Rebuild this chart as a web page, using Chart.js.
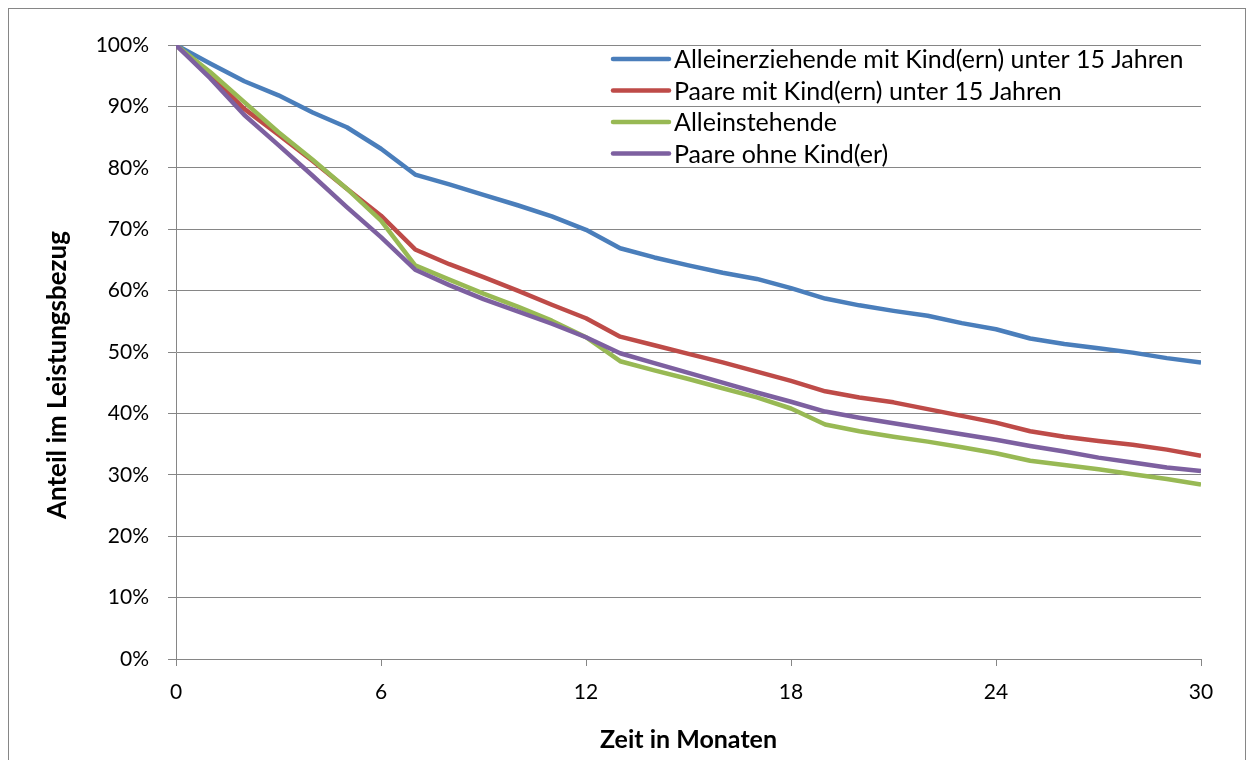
<!DOCTYPE html>
<html>
<head>
<meta charset="utf-8">
<script src="https://cdn.jsdelivr.net/npm/chart.js@4.4.0/dist/chart.umd.min.js"></script>
<style>
  body { margin: 0; background: #fff; }
  #wrap { width: 1254px; height: 760px; }
</style>
</head>
<body>
<div id="wrap"><canvas id="c" width="1254" height="760"></canvas></div>
<script>
// Zeit in Monaten 0..30
const months = [0,1,2,3,4,5,6,7,8,9,10,11,12,13,14,15,16,17,18,19,20,21,22,23,24,25,26,27,28,29,30]

const alleinerziehende = [100, 97.0, 94.1, 91.8, 89.0, 86.6, 83.1, 78.9, 77.3, 75.6, 73.9, 72.1, 69.9, 66.9, 65.4, 64.1, 62.9, 61.9, 60.4, 58.7, 57.6, 56.7, 55.9, 54.7, 53.7, 52.2, 51.3, 50.6, 49.9, 49.0, 48.3]
const paareMitKind = [100, 95.1, 89.6, 85.4, 81.1, 76.6, 72.2, 66.7, 64.3, 62.2, 60.0, 57.7, 55.5, 52.5, 51.1, 49.7, 48.3, 46.8, 45.3, 43.6, 42.6, 41.8, 40.7, 39.6, 38.5, 37.1, 36.2, 35.5, 34.9, 34.1, 33.1]
const alleinstehende = [100, 95.6, 90.7, 85.8, 81.3, 76.6, 71.4, 64.1, 61.8, 59.5, 57.4, 55.1, 52.4, 48.5, 47.0, 45.6, 44.1, 42.6, 40.8, 38.2, 37.1, 36.2, 35.4, 34.5, 33.5, 32.3, 31.6, 30.9, 30.1, 29.3, 28.4]
const paareOhneKind = [100, 94.6, 88.6, 83.7, 78.7, 73.6, 68.7, 63.4, 60.9, 58.6, 56.6, 54.6, 52.4, 49.8, 48.2, 46.6, 45.0, 43.4, 41.9, 40.3, 39.3, 38.4, 37.5, 36.6, 35.7, 34.7, 33.8, 32.8, 32.0, 31.2, 30.6]

const seriesNames = ["Alleinerziehende mit Kind(ern) unter 15 Jahren", "Paare mit Kind(ern) unter 15 Jahren", "Alleinstehende", "Paare ohne Kind(er)"]
const seriesValues = [alleinerziehende, paareMitKind, alleinstehende, paareOhneKind]
const seriesColors = ["#4a7ebb", "#be4b48", "#98b954", "#7d60a0"]

const yTitle = "Anteil im Leistungsbezug"
const xTitle = "Zeit in Monaten"

const FONT = "Lato, 'Open Sans', sans-serif"
const GRID = "#868686"

function toPoints(values) {
    return values.map((v, i) => ({ x: months[i], y: v }))
}

// Rahmen, Legende im Diagramm und Y-Achsentitel
const extras = {
    id: 'extras',
    beforeDraw(chart) {
        let ctx = chart.ctx
        ctx.save()
        ctx.fillStyle = '#fff'
        ctx.fillRect(0, 0, chart.width, chart.height)
        ctx.strokeStyle = GRID
        ctx.lineWidth = 1
        ctx.strokeRect(8.5, 8.5, 1237, 760)
        ctx.restore()
    },
    afterDraw(chart) {
        let ctx = chart.ctx
        ctx.save()
        ctx.font = "25px " + FONT
        ctx.textBaseline = 'middle'
        ctx.lineCap = 'round'
        chart.data.datasets.forEach((ds, i) => {
            let y = 59 + i * 31.5
            ctx.strokeStyle = ds.borderColor
            ctx.lineWidth = 4.5
            ctx.beginPath()
            ctx.moveTo(613, y)
            ctx.lineTo(669, y)
            ctx.stroke()
            ctx.fillStyle = '#000'
            ctx.fillText(ds.label, 674, y + 1)
        })

        ctx.translate(58, 375)
        ctx.rotate(-Math.PI / 2)
        ctx.font = "bold 26px " + FONT
        ctx.textAlign = 'center'
        ctx.fillText(yTitle, 0, 0)
        ctx.restore()
    }
}

let canv = document.getElementById("c")

let chart = new Chart(canv, {
    type: 'line',
    data: {
        datasets: seriesValues.map((vals, i) => ({
            label: seriesNames[i],
            data: toPoints(vals),
            borderColor: seriesColors[i],
            backgroundColor: seriesColors[i],
            borderWidth: 4.5,
            pointRadius: 0,
            tension: 0,
            borderJoinStyle: 'round',
            order: seriesValues.length - i
        }))
    },
    options: {
        responsive: false,
        animation: false,
        layout: { padding: { top: 45, right: 53, left: 0, bottom: 0 } },
        plugins: {
            legend: { display: false },
            tooltip: { enabled: false }
        },
        scales: {
            x: {
                type: 'linear',
                min: 0,
                max: 30,
                afterFit: s => { s.height = 101 },
                ticks: {
                    stepSize: 6,
                    color: '#000',
                    padding: 14,
                    font: { family: FONT, size: 21 },
                    maxRotation: 0
                },
                grid: { drawOnChartArea: false, drawTicks: true, tickLength: 7, color: GRID },
                border: { color: GRID, width: 1 },
                title: {
                    display: true,
                    text: xTitle,
                    color: '#000',
                    font: { family: FONT, size: 25, weight: 'bold' },
                    padding: { top: 0, bottom: 5 }
                }
            },
            y: {
                min: 0,
                max: 100,
                afterFit: s => { s.width = 176 },
                ticks: {
                    stepSize: 10,
                    color: '#000',
                    padding: 19,
                    font: { family: FONT, size: 21 },
                    callback: v => v + '%'
                },
                grid: { color: GRID, tickLength: 8 },
                border: { color: GRID, width: 1 }
            }
        }
    },
    plugins: [extras]
})
</script>
</body>
</html>
